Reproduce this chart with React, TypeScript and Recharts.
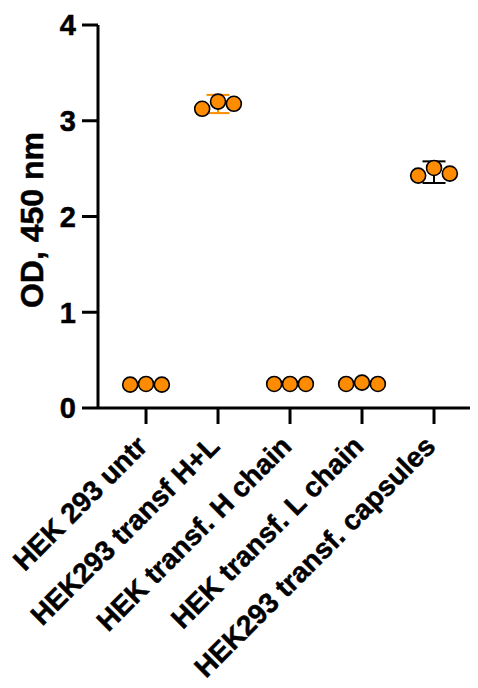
import React from 'react';
import { ScatterChart, Scatter, XAxis, YAxis, ErrorBar, Label } from 'recharts';

const categories = [
  'HEK 293 untr',
  'HEK293 transf H+L',
  'HEK transf. H chain',
  'HEK transf. L chain',
  'HEK293 transf. capsules',
];
const rep1 = [0.244, 3.125, 0.251, 0.251, 2.427];
const rep2 = [0.251, 3.2, 0.251, 0.265, 2.507];
const rep3 = [0.244, 3.177, 0.251, 0.251, 2.448];
const means = [0.246, 3.175, 0.251, 0.256, 2.463];
const sds = [0, 0.095, 0, 0, 0.113];
const errColors = ['#000000', '#FF8C00', '#000000', '#000000', '#000000'];
const yTicks = [0, 1, 2, 3, 4];
const yLabel = 'OD, 450 nm';

const FONT = '"Liberation Sans", Arial, Helvetica, sans-serif';
const ORANGE = '#FF8C00';
const jitter = [-0.22, 0, 0.22];
const reps = [rep1, rep2, rep3];
const points = categories.flatMap((_, i) => reps.map((r, j) => ({ x: i + jitter[j], y: r[i] })));
const catIdx = categories.map((_, i) => i);

const Dot = (props: any) => (
  <circle cx={props.cx} cy={props.cy} r={7.5} fill={ORANGE} stroke="#000" strokeWidth={1.6} />
);
const NoShape = () => <g />;

const XTick = (props: any) => {
  const { x, y, payload } = props;
  return (
    <text
      x={0}
      y={0}
      transform={`translate(${x + 3},${y + 24}) rotate(-45)`}
      textAnchor="end"
      fontFamily={FONT}
      fontWeight="bold"
      fontSize={28}
      fill="#000"
      stroke="#000"
      strokeWidth={0.5}
    >
      {categories[payload.value]}
    </text>
  );
};

const YLabel = () => (
  <text
    x={0}
    y={0}
    transform="translate(35,212) rotate(-90)"
    textAnchor="middle"
    fontFamily={FONT}
    fontWeight="bold"
    fontSize={32}
    fill="#000"
    stroke="#000"
    strokeWidth={0.5}
  >
    {yLabel}
  </text>
);

export default function App() {
  return (
    <ScatterChart width={470} height={680} margin={{ top: 17, right: 0, bottom: 0, left: 0 }}>
      <XAxis
        type="number"
        dataKey="x"
        domain={[-0.667, 4.611]}
        allowDataOverflow
        ticks={catIdx}
        interval={0}
        height={280}
        tickSize={16}
        tickMargin={0}
        axisLine={{ stroke: '#000', strokeWidth: 3 }}
        tickLine={{ stroke: '#000', strokeWidth: 3 }}
        tick={<XTick />}
      />
      <YAxis
        type="number"
        dataKey="y"
        domain={[0, 4]}
        ticks={yTicks}
        interval={0}
        width={90}
        tickSize={16}
        tickMargin={6}
        axisLine={{ stroke: '#000', strokeWidth: 3 }}
        tickLine={{ stroke: '#000', strokeWidth: 3 }}
        tick={{ fill: '#000', stroke: '#000', strokeWidth: 0.5, fontFamily: FONT, fontWeight: 'bold', fontSize: 29 }}
      >
        <Label content={<YLabel />} />
      </YAxis>
      {catIdx
        .filter((i) => sds[i] > 0)
        .map((i) => (
          <Scatter
            key={`err-${i}`}
            data={[{ x: i, y: means[i], err: sds[i] }]}
            shape={<NoShape />}
            isAnimationActive={false}
          >
            <ErrorBar dataKey="err" direction="y" width={11.5} stroke={errColors[i]} strokeWidth={2} />
          </Scatter>
        ))}
      <Scatter data={points} shape={<Dot />} isAnimationActive={false} />
    </ScatterChart>
  );
}
